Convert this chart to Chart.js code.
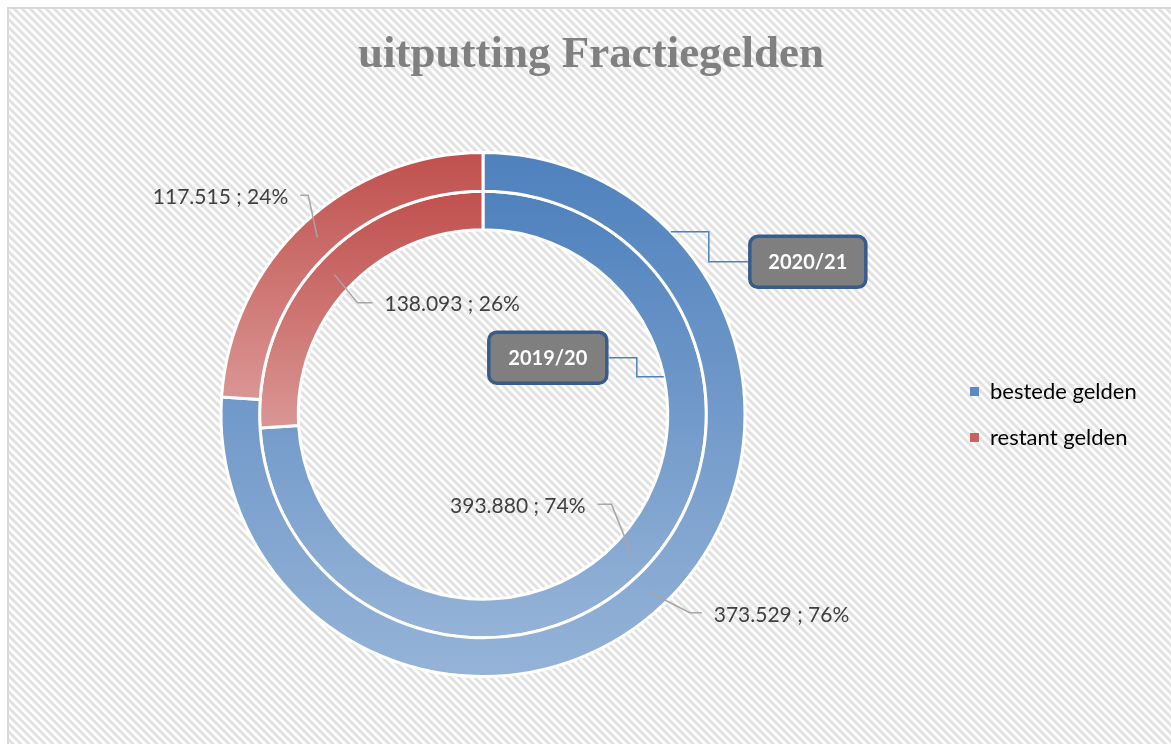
<!DOCTYPE html>
<html>
<head>
<meta charset="utf-8">
<script src="https://cdn.jsdelivr.net/npm/chart.js@4.4.1/dist/chart.umd.min.js"></script>
<style>
  html, body { margin: 0; padding: 0; background: #fff; }
  #wrap { position: relative; width: 1171px; height: 744px; overflow: hidden; }
  #frame {
    position: absolute; left: 7px; top: 7px; width: 1180px; height: 760px;
    border-left: 2px solid #d9d9d9; border-top: 2px solid #d9d9d9;
    background: repeating-linear-gradient(45deg, #fff 0px, #fff 1.4px, #e1e1e1 2.6px, #e1e1e1 4.2px, #fff 5.66px);
  }
  canvas { position: absolute; left: 0; top: 0; }
</style>
</head>
<body>
<div id="wrap">
  <div id="frame"></div>
  <canvas id="myChart" width="1171" height="744"></canvas>
</div>
<script>
// data
const categories = ['bestede gelden', 'restant gelden'];
const seasons = ['2020/21', '2019/20'];          // outer ring first
const values2020 = [373529, 117515];
const values2019 = [393880, 138093];

// colours: [top, bottom] of each slice gradient
const sliceColors = [['#4F81BD', '#95B3D7'], ['#C0504D', '#DA9694']];
const legendColors = ['#5A8AC6', '#C9625F'];

// label leader lines, offsets from the arc centre point
const labelLayout = [
  [ {elbow: [41, 21], end: [53, 21]},  {elbow: [-9, -42], end: [-17, -42]} ],
  [ {elbow: [-20, -50], end: [-34, -50]}, {elbow: [23, 28], end: [38, 28]} ]
];
// series name callouts
const calloutLayout = [
  {ring: 0, edge: 'outer', angle: 45.8, path: [[38, 0], [38, 30], [77, 30]], side: 'left', w: 120, h: 55},
  {ring: 1, edge: 'inner', angle: 78.2, path: [[-27, 0], [-27, -19], [-55, -19]], side: 'right', w: 122, h: 55}
];

const fmt = v => String(v).replace(/\B(?=(\d{3})+(?!\d))/g, '.');
const pct = (vals, i) => Math.round(vals[i] / vals.reduce((a, b) => a + b, 0) * 100);

// vertical gradient over the bounding box of each slice (like excel does)
function sliceFill(ctx) {
  const chart = ctx.chart, area = chart.chartArea;
  const pair = sliceColors[ctx.dataIndex] || sliceColors[0];
  if (!area || ctx.dataIndex === undefined) return pair[0];
  const ctrl = chart.getDatasetMeta(ctx.datasetIndex).controller;
  if (!ctrl.outerRadius) return pair[0];
  const cy = (area.top + area.bottom) / 2;
  const data = chart.data.datasets[ctx.datasetIndex].data;
  const total = data.reduce((a, b) => a + b, 0);
  let before = 0;
  for (let k = 0; k < ctx.dataIndex; k++) before += data[k];
  const a0 = -Math.PI / 2 + 2 * Math.PI * before / total;
  const a1 = a0 + 2 * Math.PI * data[ctx.dataIndex] / total;
  let top = Infinity, bottom = -Infinity;
  for (let k = 0; k <= 90; k++) {
    const a = a0 + (a1 - a0) * k / 90;
    for (const r of [ctrl.outerRadius, ctrl.innerRadius]) {
      const y = cy + Math.sin(a) * r;
      top = Math.min(top, y); bottom = Math.max(bottom, y);
    }
  }
  const g = chart.ctx.createLinearGradient(0, top, 0, bottom);
  g.addColorStop(0, pair[0]);
  g.addColorStop(1, pair[1]);
  return g;
}

// fixed legend width, and keep it beside the doughnut vertically
const legendPlacePlugin = {
  id: 'legendPlace',
  afterInit(chart) {
    const fit = chart.legend.fit;
    chart.legend.fit = function () { fit.call(this); this.width = 216; };
  },
  afterLayout(chart) {
    chart.legend.top = chart.chartArea.top;
    chart.legend.bottom = chart.chartArea.bottom;
  }
};

const dataLabelPlugin = {
  id: 'dataLabels',
  afterDatasetsDraw(chart) {
    const c = chart.ctx;
    c.save();
    c.font = '21px Lato';
    c.textBaseline = 'middle';
    chart.data.datasets.forEach((ds, di) => {
      chart.getDatasetMeta(di).data.forEach((arc, i) => {
        const p = arc.getCenterPoint();
        const L = labelLayout[di][i];
        const ex = p.x + L.elbow[0], ey = p.y + L.elbow[1];
        const tx = p.x + L.end[0], ty = p.y + L.end[1];
        c.strokeStyle = '#a6a6a6';
        c.lineWidth = 1.5;
        c.beginPath(); c.moveTo(p.x, p.y); c.lineTo(ex, ey); c.lineTo(tx, ty); c.stroke();
        const right = L.end[0] < L.elbow[0];
        c.fillStyle = '#404040';
        c.textAlign = right ? 'right' : 'left';
        c.fillText(fmt(ds.data[i]) + ' ; ' + pct(ds.data, i) + '%', tx + (right ? -12 : 12), ty + 2);
      });
    });
    c.restore();
  }
};

const calloutPlugin = {
  id: 'callouts',
  afterDatasetsDraw(chart) {
    const c = chart.ctx;
    c.save();
    calloutLayout.forEach(co => {
      const arc = chart.getDatasetMeta(co.ring).data[0];
      const r = co.edge === 'outer' ? arc.outerRadius : arc.innerRadius;
      const a = (co.angle - 90) * Math.PI / 180;
      const ax = arc.x + r * Math.cos(a), ay = arc.y + r * Math.sin(a);
      c.strokeStyle = '#4F81BD';
      c.lineWidth = 1.5;
      c.beginPath();
      c.moveTo(ax, ay);
      co.path.forEach(pt => c.lineTo(ax + pt[0], ay + pt[1]));
      c.stroke();
      const last = co.path[co.path.length - 1];
      const bx = ax + last[0], by = ay + last[1];
      const left = co.side === 'left' ? bx : bx - co.w;
      c.beginPath();
      c.roundRect(left + 2, by - co.h / 2 + 2, co.w - 4, co.h - 4, 8);
      c.fillStyle = '#7F7F7F';
      c.fill();
      c.lineWidth = 3.5;
      c.strokeStyle = '#375C8C';
      c.stroke();
      c.fillStyle = '#fff';
      c.font = 'bold 20px Lato';
      c.textAlign = 'center';
      c.textBaseline = 'middle';
      c.fillText(seasons[co.ring], left + co.w / 2, by + 1);
    });
    c.restore();
  }
};

new Chart(document.getElementById('myChart'), {
  type: 'doughnut',
  data: {
    labels: categories,
    datasets: [
      {label: seasons[0], data: values2020, backgroundColor: sliceFill, borderColor: '#fff', borderWidth: 3},
      {label: seasons[1], data: values2019, backgroundColor: sliceFill, borderColor: '#fff', borderWidth: 3}
    ]
  },
  options: {
    responsive: false,
    animation: false,
    events: [],
    cutout: '70.5%',
    layout: {padding: {left: 20, right: 9, top: 0, bottom: 66}},
    plugins: {
      title: {
        display: true,
        text: 'uitputting Fractiegelden',
        color: '#808080',
        font: {family: 'Liberation Serif', size: 45, weight: 'bold', lineHeight: 1.2},
        padding: {top: 28, bottom: 69}
      },
      legend: {
        position: 'right',
        labels: {
          boxWidth: 9, boxHeight: 9, padding: 24,
          color: '#595959',
          font: {family: 'Lato', size: 22},
          generateLabels: () => categories.map((t, i) => ({
            text: t, fillStyle: legendColors[i], strokeStyle: legendColors[i],
            lineWidth: 0, hidden: false, index: i
          }))
        }
      },
      tooltip: {enabled: false}
    }
  },
  plugins: [legendPlacePlugin, dataLabelPlugin, calloutPlugin]
});
</script>
</body>
</html>
